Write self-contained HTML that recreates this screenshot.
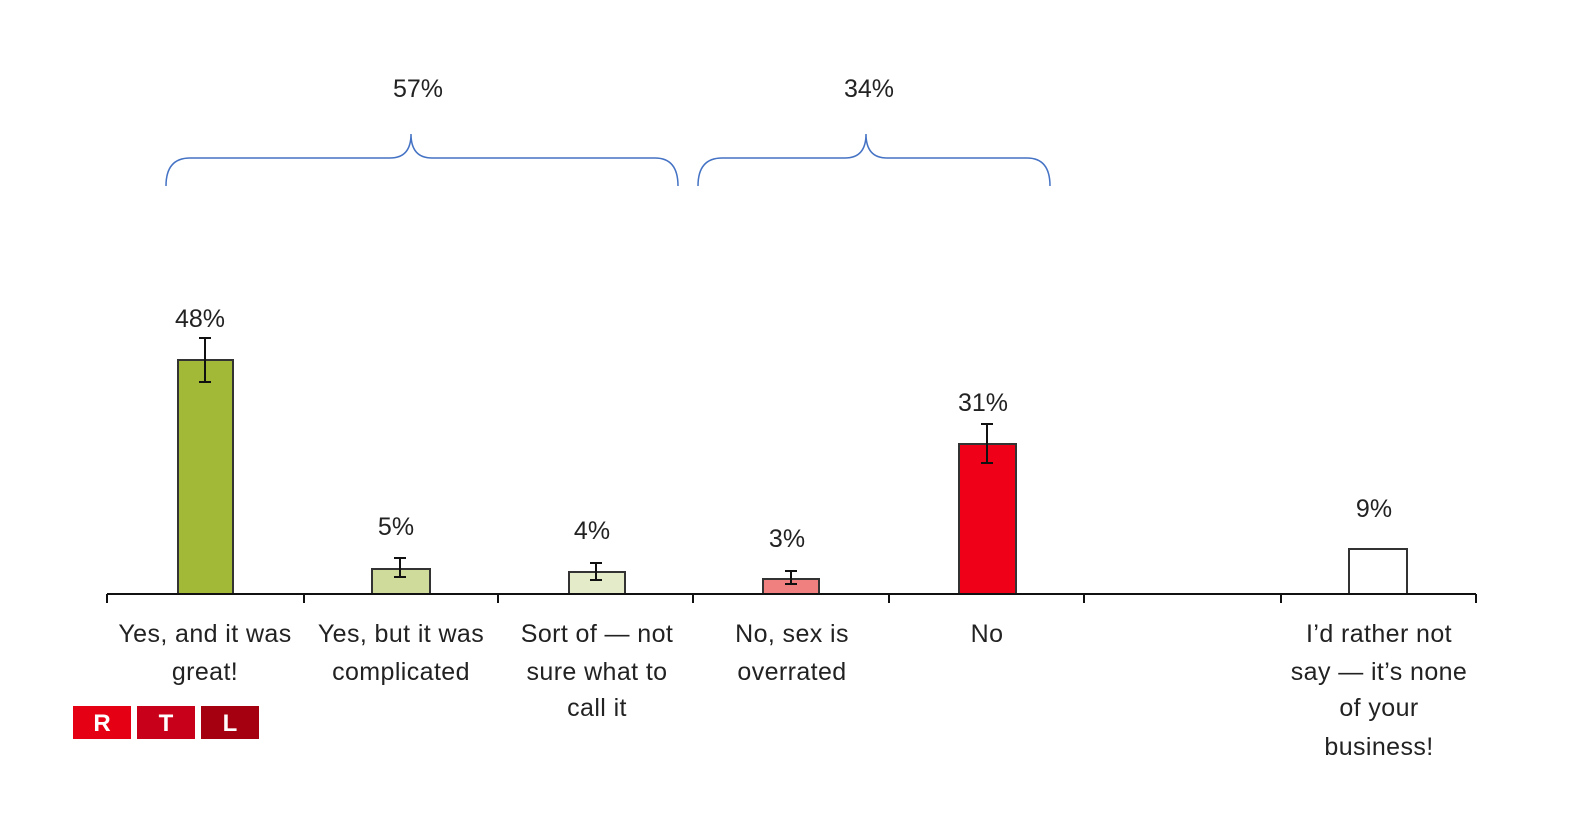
<!DOCTYPE html>
<html><head><style>
body{margin:0;background:#fff;}
svg{display:block;font-family:"Liberation Sans",sans-serif;}
</style></head><body>
<svg width="1572" height="814" viewBox="0 0 1572 814">
<g font-size="25" fill="#222" text-anchor="middle">
<text x="418" y="97">57%</text>
<text x="869" y="97">34%</text>
</g>
<g fill="none" stroke="#4472c4" stroke-width="1.5">
<path d="M166,186 Q166,158 190,158 L390,158 Q411,158 411,134 Q411,158 432,158 L655,158 Q678,158 678,186"/>
<path d="M698,186 Q698,158 722,158 L845,158 Q866,158 866,134 Q866,158 887,158 L1027,158 Q1050,158 1050,186"/>
</g>
<g stroke="#333" stroke-width="2">
<rect x="178" y="360" width="55" height="234" fill="#a2b837"/>
<rect x="372" y="569" width="58" height="25" fill="#cfdb9b"/>
<rect x="569" y="572" width="56" height="22" fill="#e4ebc8"/>
<rect x="763" y="579" width="56" height="15" fill="#f08080"/>
<rect x="959" y="444" width="57" height="150" fill="#f00018"/>
<rect x="1349" y="549" width="58" height="45" fill="#fff"/>
</g>
<g stroke="#111" stroke-width="2">
<path d="M205,338V382M199,338H211M199,382H211"/>
<path d="M400,558V577M394,558H406M394,577H406"/>
<path d="M596,563V580M590,563H602M590,580H602"/>
<path d="M791,571V584M785,571H797M785,584H797"/>
<path d="M987,424V463M981,424H993M981,463H993"/>
<path d="M107,594H1476M107,594V603M304,594V603M498,594V603M693,594V603M889,594V603M1084,594V603M1281,594V603M1476,594V603"/>
</g>
<g font-size="25" fill="#222" text-anchor="middle">
<text x="200" y="327">48%</text>
<text x="396" y="535">5%</text>
<text x="592" y="539">4%</text>
<text x="787" y="547">3%</text>
<text x="983" y="411">31%</text>
<text x="1374" y="517">9%</text>
</g>
<g font-size="25" fill="#222" text-anchor="middle" letter-spacing="0.4">
<text x="205" y="642">Yes, and it was</text>
<text x="205" y="680">great!</text>
<text x="401" y="642">Yes, but it was</text>
<text x="401" y="680">complicated</text>
<text x="597" y="642">Sort of — not</text>
<text x="597" y="680">sure what to</text>
<text x="597" y="716">call it</text>
<text x="792" y="642">No, sex is</text>
<text x="792" y="680">overrated</text>
<text x="987" y="642">No</text>
<text x="1379" y="642">I’d rather not</text>
<text x="1379" y="680">say — it’s none</text>
<text x="1379" y="716">of your</text>
<text x="1379" y="755">business!</text>
</g>
<rect x="73" y="706" width="58" height="33" fill="#e60014"/>
<rect x="137" y="706" width="58" height="33" fill="#c8001a"/>
<rect x="201" y="706" width="58" height="33" fill="#a4000f"/>
<g font-size="24" font-weight="bold" fill="#fff" text-anchor="middle">
<text x="102" y="731">R</text><text x="166" y="731">T</text><text x="230" y="731">L</text>
</g>
</svg>
</body></html>
